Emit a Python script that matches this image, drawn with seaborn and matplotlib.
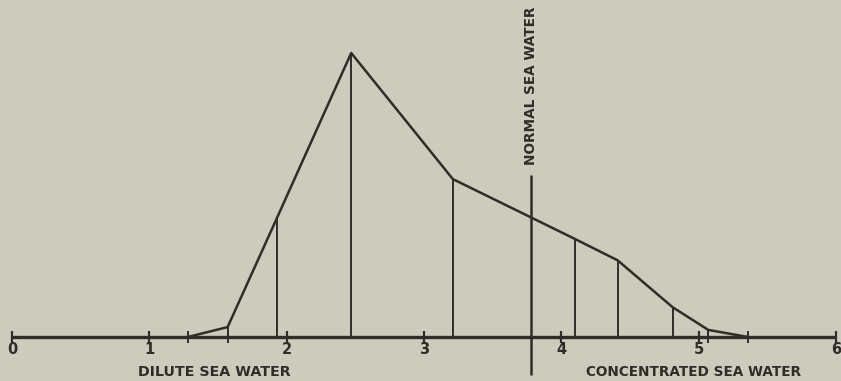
import matplotlib
matplotlib.use("Agg")
import matplotlib.pyplot as plt
import seaborn as sns
import pandas as pd

# --- data ---
# salt concentration (x) against relative activity (y, peak = 100)
concentration = [1.28, 1.57, 1.93, 2.47, 3.21, 4.10, 4.41, 4.81, 5.07, 5.36]
activity = [0, 3.5, 42, 100, 55.6, 34.5, 27, 10.5, 2.5, 0]
tick_values = [0, 1, 2, 3, 4, 5, 6]
tick_labels = ["0", "1", "2", "3", "4", "5", "6"]
normal_sea_water = 3.78

ink = "#2e2d2a"
paper = "#cfcbbc"

sns.set_theme(style="white")
plt.rcParams["font.family"] = ["DejaVu Sans"]

df = pd.DataFrame({"concentration": concentration, "activity": activity})

fig = plt.figure(figsize=(8.41, 3.81), dpi=100)
fig.patch.set_facecolor(paper)
ax = fig.add_axes([0, 0, 1, 1])
ax.set_facecolor(paper)

# the curve
sns.lineplot(data=df, x="concentration", y="activity", ax=ax,
             color=ink, linewidth=1.8, sort=False)

# drop lines from each point to the base line
ax.vlines(df["concentration"], 0, df["activity"], color=ink, linewidth=1.4)

# base line with tick marks
ax.hlines(0, tick_values[0], tick_values[-1], color=ink, linewidth=2.4)
ax.vlines(tick_values, -2.0, 2.0, color=ink, linewidth=1.6)
small = [c for c, a in zip(concentration, activity) if a < 5]
ax.vlines(small, -2.0, 2.0, color=ink, linewidth=1.4)
for v, lab in zip(tick_values, tick_labels):
    ax.text(v, -4.3, lab, ha="center", va="center", fontsize=10.5,
            fontweight="bold", color=ink)

# normal sea water marker
ax.vlines(normal_sea_water, -13.4, 57, color=ink, linewidth=1.8)
ax.text(normal_sea_water, 88.5, "NORMAL SEA WATER", rotation=90,
        ha="center", va="center", fontsize=9.8, fontweight="bold", color=ink)

ax.text(1.47, -12.3, "DILUTE SEA WATER", ha="center", va="center",
        fontsize=10.3, fontweight="bold", color=ink)
ax.text(4.96, -12.3, "CONCENTRATED SEA WATER", ha="center", va="center",
        fontsize=9.8, fontweight="bold", color=ink)

ax.set_xlim(-0.0874, 6.0364)
ax.set_ylim(-15.49, 118.66)
ax.set_axis_off()

fig.savefig("out.png", dpi=100, facecolor=paper)
